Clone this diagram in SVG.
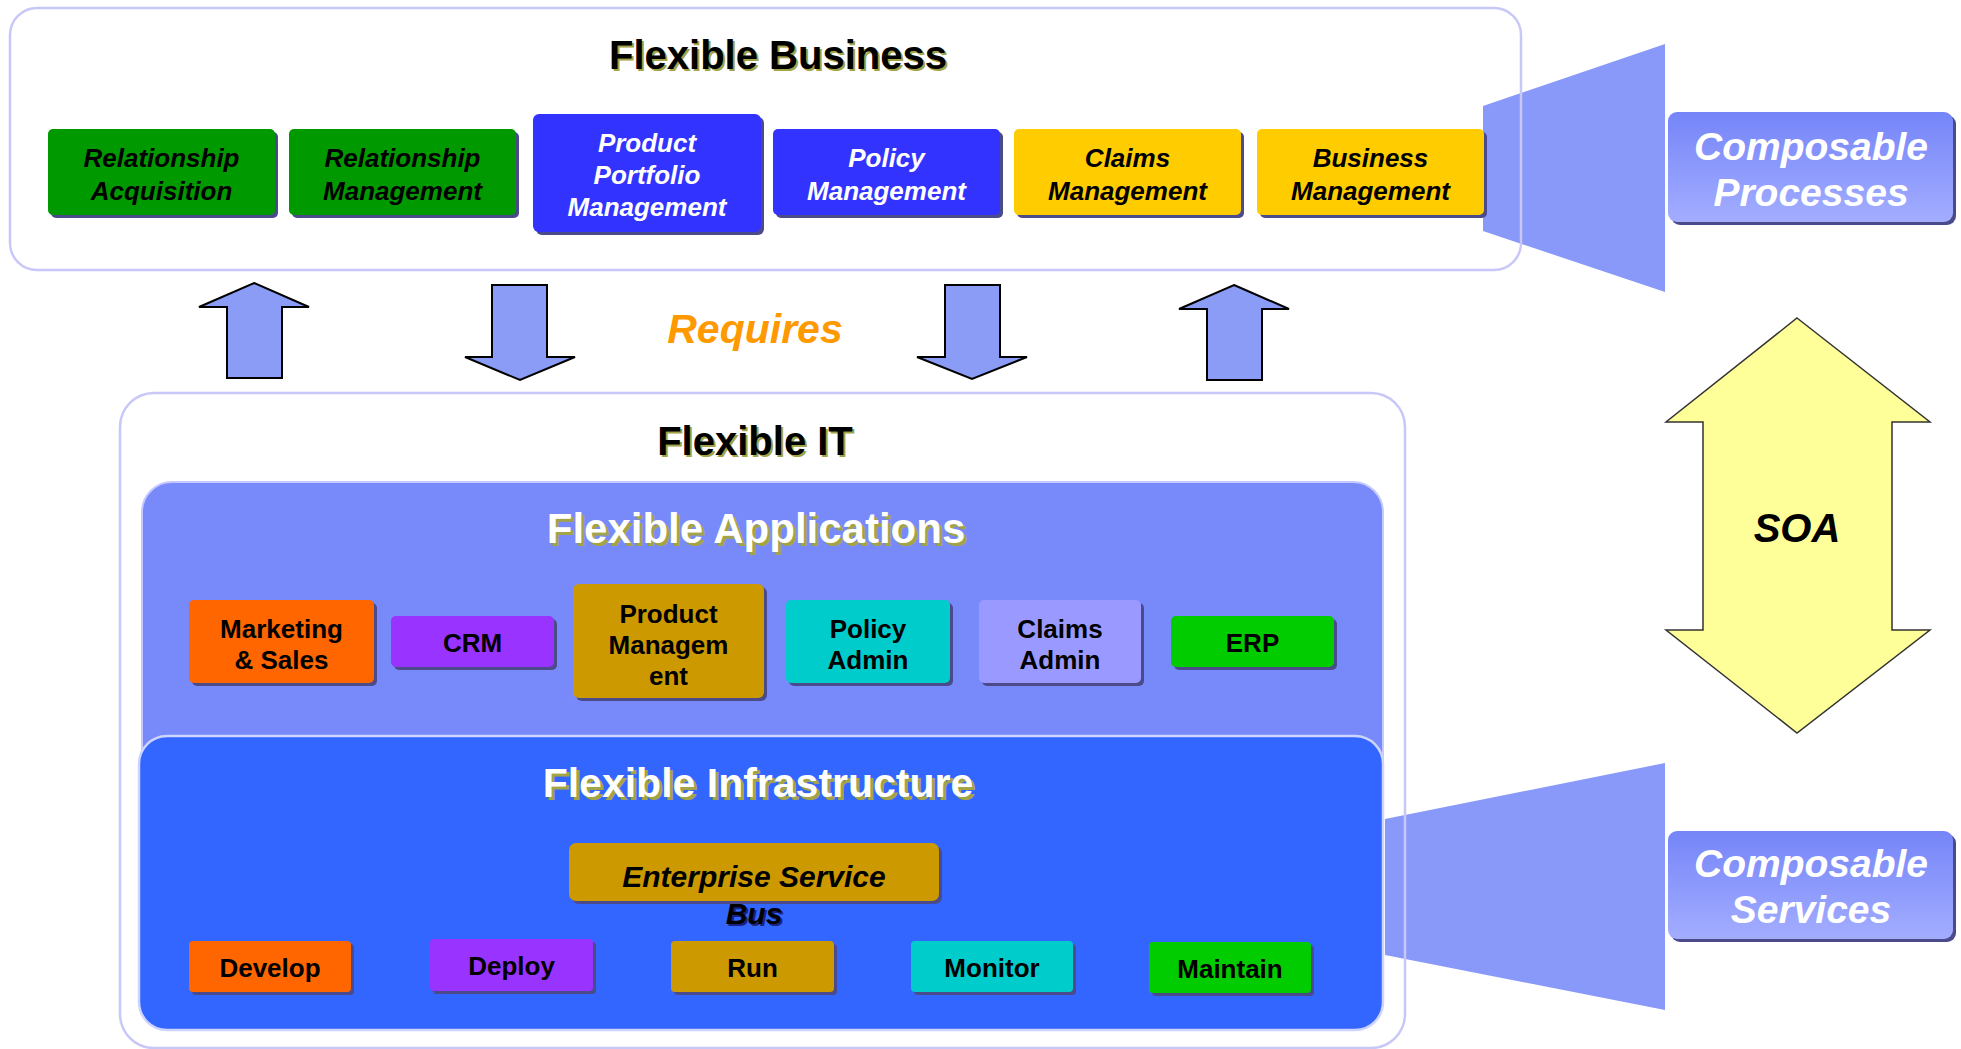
<svg xmlns="http://www.w3.org/2000/svg" width="1961" height="1049" viewBox="0 0 1961 1049">
<defs>
<linearGradient id="compGrad" x1="0" y1="0" x2="0" y2="1">
<stop offset="0" stop-color="#7585f8"/>
<stop offset="1" stop-color="#a3adff"/>
</linearGradient>
<style>
text{font-family:"Liberation Sans",Arial,sans-serif;font-weight:bold;text-anchor:middle}
.title{font-size:40px}
.tshadow{fill:#a3a347}
.it{font-style:italic}
.proc{font-size:26px;font-style:italic}
.app{font-size:26px;fill:#000}
.shadow{fill:#4b4b8c}
.block{fill:#8a9cf6;stroke:#000;stroke-width:2;stroke-linejoin:miter}
.funnel{fill:#8899f9}
.container{fill:none;stroke:#c8c8f8;stroke-width:2.5}
.comp{font-size:39px;font-style:italic;fill:#fff}
</style>
</defs>
<rect width="1961" height="1049" fill="#fff"/>

<g id="connectors">
<path class="funnel" d="M1483,106 L1665,44 L1665,292 L1483,231 Z"/>
<path class="funnel" d="M1385,819 L1665,763 L1665,1010 L1385,955 Z"/>
<path class="block" d="M254,283 L309,307 L282,307 L282,378 L227,378 L227,307 L199,307 Z"/>
<path class="block" d="M492,285 L547,285 L547,357 L575,357 L520,380 L465,357 L492,357 Z"/>
<path class="block" d="M945,285 L1000,285 L1000,357 L1027,357 L972,379 L917,357 L945,357 Z"/>
<path class="block" d="M1234,285 L1289,309 L1262,309 L1262,380 L1207,380 L1207,309 L1179,309 Z"/>
</g>

<g id="flexible-business">
<rect class="container" x="10" y="8" width="1511" height="262" rx="27"/>
<text class="title tshadow" x="780" y="71">Flexible Business</text>
<text class="title" x="778" y="69" fill="#000">Flexible Business</text>
</g>

<g id="relationship-acquisition">
<rect class="shadow" x="51" y="132" width="227" height="86" rx="5"/>
<rect x="48" y="129" width="227" height="86" rx="5" fill="#009900"/>
<text class="proc" x="161.5" y="167" fill="#000">Relationship</text>
<text class="proc" x="161.5" y="200" fill="#000">Acquisition</text>
</g>
<g id="relationship-management">
<rect class="shadow" x="292" y="132" width="227" height="86" rx="5"/>
<rect x="289" y="129" width="227" height="86" rx="5" fill="#009900"/>
<text class="proc" x="402.5" y="167" fill="#000">Relationship</text>
<text class="proc" x="402.5" y="200" fill="#000">Management</text>
</g>
<g id="product-portfolio-management">
<rect class="shadow" x="536" y="117" width="228" height="118" rx="6"/>
<rect x="533" y="114" width="228" height="118" rx="6" fill="#3333ff"/>
<text class="proc" x="647" y="152" fill="#fff">Product</text>
<text class="proc" x="647" y="184" fill="#fff">Portfolio</text>
<text class="proc" x="647" y="216" fill="#fff">Management</text>
</g>
<g id="policy-management">
<rect class="shadow" x="776" y="132" width="227" height="86" rx="5"/>
<rect x="773" y="129" width="227" height="86" rx="5" fill="#3333ff"/>
<text class="proc" x="886.5" y="167" fill="#fff">Policy</text>
<text class="proc" x="886.5" y="200" fill="#fff">Management</text>
</g>
<g id="claims-management">
<rect class="shadow" x="1017" y="132" width="227" height="86" rx="5"/>
<rect x="1014" y="129" width="227" height="86" rx="5" fill="#ffcc00"/>
<text class="proc" x="1127.5" y="167" fill="#000">Claims</text>
<text class="proc" x="1127.5" y="200" fill="#000">Management</text>
</g>
<g id="business-management">
<rect class="shadow" x="1260" y="132" width="227" height="86" rx="5"/>
<rect x="1257" y="129" width="227" height="86" rx="5" fill="#ffcc00"/>
<text class="proc" x="1370.5" y="167" fill="#000">Business</text>
<text class="proc" x="1370.5" y="200" fill="#000">Management</text>
</g>

<g id="requires">
<text x="755" y="343" font-size="41" font-style="italic" fill="#ff9900">Requires</text>
</g>

<g id="composable-processes">
<rect class="shadow" x="1671" y="115" width="285" height="110" rx="9"/>
<rect x="1668" y="112" width="285" height="110" rx="9" fill="url(#compGrad)"/>
<text class="comp" x="1811" y="160">Composable</text>
<text class="comp" x="1811" y="206">Processes</text>
</g>

<g id="soa">
<path d="M1797,318 L1930,422 L1892,422 L1892,630 L1930,630 L1797,733 L1666,630 L1703,630 L1703,422 L1666,422 Z" fill="#ffff99" stroke="#333" stroke-width="1.5"/>
<text x="1797" y="542" font-size="40" font-style="italic" fill="#000">SOA</text>
</g>

<g id="composable-services">
<rect class="shadow" x="1671" y="834" width="285" height="108" rx="9"/>
<rect x="1668" y="831" width="285" height="108" rx="9" fill="url(#compGrad)"/>
<text class="comp" x="1811" y="877">Composable</text>
<text class="comp" x="1811" y="923">Services</text>
</g>

<g id="flexible-it">
<rect class="container" x="120" y="393" width="1285" height="655" rx="34"/>
<text class="title tshadow" x="757" y="457">Flexible IT</text>
<text class="title" x="755" y="455" fill="#000">Flexible IT</text>
</g>

<g id="flexible-applications">
<rect x="142" y="482" width="1241" height="520" rx="30" fill="#7889fa" stroke="#c4caff" stroke-width="2"/>
<text class="tshadow" x="759" y="546" font-size="42">Flexible Applications</text>
<text x="756" y="543" font-size="42" fill="#fff">Flexible Applications</text>
</g>

<g id="marketing-sales">
<rect class="shadow" x="192" y="603" width="185" height="83" rx="5"/>
<rect x="189" y="600" width="185" height="83" rx="5" fill="#ff6600"/>
<text class="app" x="281.5" y="638">Marketing</text>
<text class="app" x="281.5" y="669">&amp; Sales</text>
</g>
<g id="crm">
<rect class="shadow" x="394" y="619" width="163" height="51" rx="5"/>
<rect x="391" y="616" width="163" height="51" rx="5" fill="#9933ff"/>
<text class="app" x="472.5" y="652">CRM</text>
</g>
<g id="product-management">
<rect class="shadow" x="576" y="587" width="191" height="114" rx="6"/>
<rect x="573" y="584" width="191" height="114" rx="6" fill="#cc9900"/>
<text class="app" x="668.5" y="623">Product</text>
<text class="app" x="668.5" y="654">Managem</text>
<text class="app" x="668.5" y="685">ent</text>
</g>
<g id="policy-admin">
<rect class="shadow" x="789" y="603" width="164" height="83" rx="5"/>
<rect x="786" y="600" width="164" height="83" rx="5" fill="#00cccc"/>
<text class="app" x="868" y="638">Policy</text>
<text class="app" x="868" y="669">Admin</text>
</g>
<g id="claims-admin">
<rect class="shadow" x="982" y="603" width="162" height="83" rx="5"/>
<rect x="979" y="600" width="162" height="83" rx="5" fill="#9999ff"/>
<text class="app" x="1060" y="638">Claims</text>
<text class="app" x="1060" y="669">Admin</text>
</g>
<g id="erp">
<rect class="shadow" x="1174" y="619" width="163" height="51" rx="5"/>
<rect x="1171" y="616" width="163" height="51" rx="5" fill="#00cc00"/>
<text class="app" x="1252.5" y="652">ERP</text>
</g>

<g id="flexible-infrastructure">
<rect x="139" y="736" width="1244" height="294" rx="28" fill="#3366ff" stroke="#ccd4ff" stroke-width="2.5"/>
<text class="tshadow" x="761" y="800" font-size="41">Flexible Infrastructure</text>
<text x="758" y="797" font-size="41" fill="#fff">Flexible Infrastructure</text>
</g>

<g id="enterprise-service-bus">
<rect class="shadow" x="572" y="846" width="370" height="58" rx="7"/>
<rect x="569" y="843" width="370" height="58" rx="7" fill="#cc9900"/>
<text x="754" y="887" font-size="30" font-style="italic" fill="#000">Enterprise Service</text>
<text x="756" y="926" font-size="30" font-style="italic" fill="#1a237e">Bus</text>
<text x="754" y="924" font-size="30" font-style="italic" fill="#000">Bus</text>
</g>

<g id="develop">
<rect class="shadow" x="192" y="944" width="162" height="51" rx="4"/>
<rect x="189" y="941" width="162" height="51" rx="4" fill="#ff6600"/>
<text class="app" x="270" y="977">Develop</text>
</g>
<g id="deploy">
<rect class="shadow" x="433" y="942" width="163" height="52" rx="4"/>
<rect x="430" y="939" width="163" height="52" rx="4" fill="#9933ff"/>
<text class="app" x="511.5" y="975">Deploy</text>
</g>
<g id="run">
<rect class="shadow" x="674" y="944" width="163" height="51" rx="4"/>
<rect x="671" y="941" width="163" height="51" rx="4" fill="#cc9900"/>
<text class="app" x="752.5" y="977">Run</text>
</g>
<g id="monitor">
<rect class="shadow" x="914" y="944" width="162" height="51" rx="4"/>
<rect x="911" y="941" width="162" height="51" rx="4" fill="#00cccc"/>
<text class="app" x="992" y="977">Monitor</text>
</g>
<g id="maintain">
<rect class="shadow" x="1152" y="945" width="162" height="51" rx="4"/>
<rect x="1149" y="942" width="162" height="51" rx="4" fill="#00cc00"/>
<text class="app" x="1230" y="978">Maintain</text>
</g>
</svg>
